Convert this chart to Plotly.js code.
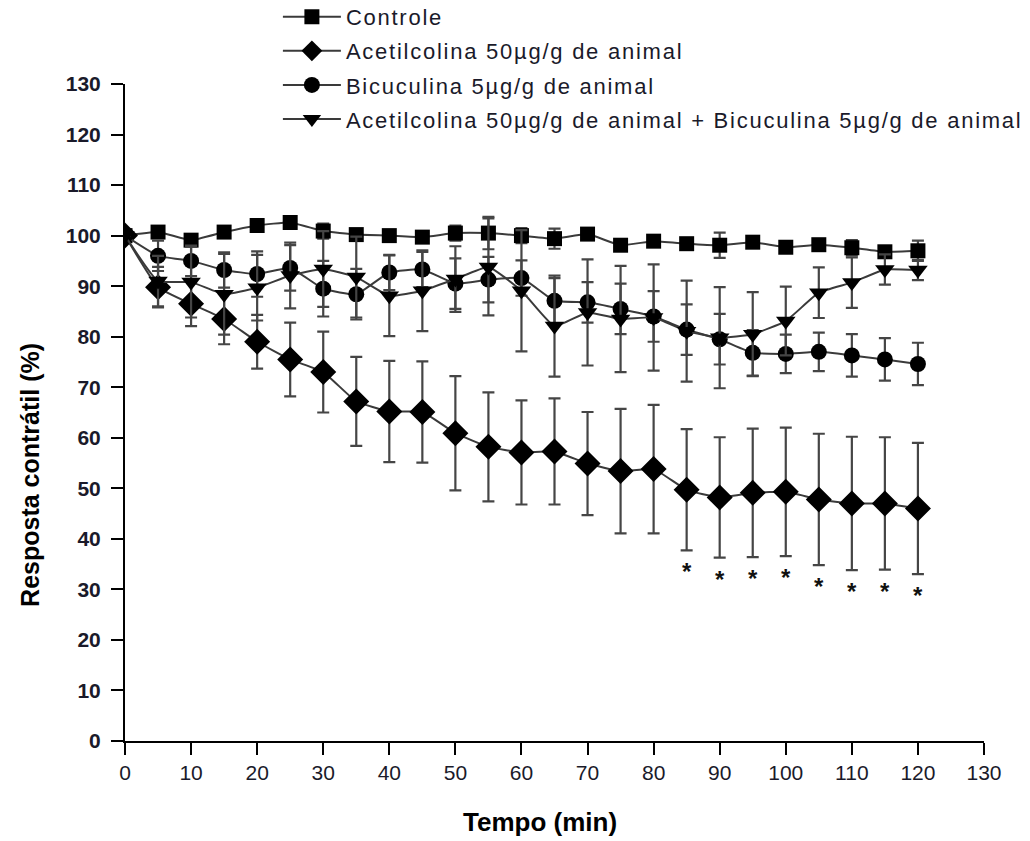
<!DOCTYPE html>
<html>
<head>
<meta charset="utf-8">
<script src="https://cdn.plot.ly/plotly-3.0.1.min.js"></script>
<style>
html,body{margin:0;padding:0;background:#fff;}
#chart{width:1030px;height:841px;}
.legendtext{letter-spacing:1.75px;}
</style>
</head>
<body>
<div id="chart"></div>
<script>
// ---- data ----
const tempo = [0,5,10,15,20,25,30,35,40,45,50,55,60,65,70,75,80,85,90,95,100,105,110,115,120];

const seriesNames = [
  "Controle",
  "Acetilcolina 50µg/g de animal",
  "Bicuculina 5µg/g de animal",
  "Acetilcolina 50µg/g de animal + Bicuculina 5µg/g de animal"
];

const controle = [100,100.7,99.1,100.7,102,102.6,100.9,100.2,100,99.7,100.5,100.5,100,99.4,100.3,98.1,98.9,98.4,98.1,98.7,97.7,98.2,97.6,96.8,97];
const controleErr = [0,1,1,1,1,1,1.5,1,1,1,1.5,3.2,1.5,2,1,1,1,1,2.5,1,1,1,1.5,1,2];

const acetil = [100,89.8,86.5,83.5,79,75.5,73,67.2,65.2,65.1,60.9,58.2,57.1,57.3,54.9,53.4,53.8,49.7,48.2,49.1,49.3,47.8,47,47,46];
const acetilErr = [0,4,4.4,5,5.3,7.3,8,8.8,10,10,11.3,10.8,10.3,10.5,10.2,12.3,12.7,12,11.9,12.7,12.7,13,13.2,13.1,13];

const bicuculina = [100,96,95,93.2,92.4,93.6,89.5,88.4,92.7,93.3,90.5,91.3,91.6,87.1,86.8,85.5,84,81.4,79.5,76.8,76.6,77,76.3,75.5,74.6];
const bicuculinaErr = [0,3,3,3.5,4.5,4.5,5.5,5,3.5,3.5,5,4.5,3.5,4.5,4,5,5,5,5,4.5,3.8,3.8,4.2,4.2,4.2];

const acetilBic = [100,91,90.8,88.4,89.7,92.1,93.4,91.8,88.1,89.1,91.4,93.8,89.1,82.1,84.8,83.5,83.8,81.1,79.8,80.5,83.1,88.7,90.7,93.3,93.2];
const acetilBicErr = [0,5,7,8,6.5,6.5,7.5,8,8,8,6.5,9.6,12,10,10.5,10.5,10.5,10,10,8.3,6.8,5,5,3,2];

// significance (*) for Acetilcolina vs controle
const significativo = [false,false,false,false,false,false,false,false,false,false,false,false,false,false,false,false,false,true,true,true,true,true,true,true,true];

const xTicks = [0,10,20,30,40,50,60,70,80,90,100,110,120,130];
const yTicks = [0,10,20,30,40,50,60,70,80,90,100,110,120,130];

const xTitle = 'Tempo (min)';
const yTitle = 'Resposta contrátil (%)';

// ---- chart ----
const FONT = 'Liberation Sans, Arial, sans-serif';
const lineColor = '#3a3a3a';
const errColor = '#454545';
function trace(name, y, err, symbol, size, group) {
  return {
    x: tempo, y: y, name: name, type: 'scatter', mode: 'lines+markers',
    legendgroup: group,
    line: {color: lineColor, width: 2, shape: 'spline', smoothing: 0.4},
    marker: {symbol: symbol, size: size, color: '#000', line: {width: 0}},
    error_y: {type: 'data', array: err, visible: true, color: errColor, thickness: 2.2, width: 6}
  };
}
const data = [
  trace(seriesNames[0], controle, controleErr, 'square', 15, 'a'),
  trace(seriesNames[1], acetil, acetilErr, 'diamond', 20, 'b'),
  trace(seriesNames[2], bicuculina, bicuculinaErr, 'circle', 16, 'c'),
  trace(seriesNames[3], acetilBic, acetilBicErr, 'triangle-down', 17, 'd')
];

const annotations = [];
tempo.forEach((t, i) => {
  if (significativo[i]) {
    annotations.push({
      x: t, y: acetil[i] - acetilErr[i], xref: 'x', yref: 'y',
      text: '<b>*</b>', showarrow: false, yanchor: 'top', yshift: -6,
      font: {family: FONT, size: 24, color: '#111'}
    });
  }
});
// axis titles (placed as in the original figure)
annotations.push({
  text: '<b>' + yTitle + '</b>', xref: 'paper', yref: 'paper', x: -0.1106, y: 0.405,
  xanchor: 'center', yanchor: 'middle', textangle: -90, showarrow: false,
  font: {family: FONT, size: 25, color: '#000'}
});
annotations.push({
  text: '<b>' + xTitle + '</b>', xref: 'paper', yref: 'paper', x: 0.483, y: -0.1233,
  xanchor: 'center', yanchor: 'middle', showarrow: false,
  font: {family: FONT, size: 26, color: '#000'}
});

const layout = {
  width: 1030, height: 841,
  margin: {l: 125, r: 46, t: 84, b: 100, autoexpand: false},
  paper_bgcolor: '#fff', plot_bgcolor: '#fff',
  showlegend: true,
  legend: {
    x: 0.178, xanchor: 'left', y: 1.134, yanchor: 'top',
    font: {family: FONT, size: 22, color: '#1a1a2a'},
    itemwidth: 58, tracegroupgap: 2.5, traceorder: 'grouped',
    bgcolor: 'rgba(0,0,0,0)'
  },
  xaxis: {
    range: [0, 130], tickvals: xTicks, ticktext: xTicks.map(String),
    showgrid: false, zeroline: false, showline: true, linecolor: '#000', linewidth: 2,
    ticks: 'outside', ticklen: 12, tickwidth: 2, tickcolor: '#000',
    tickfont: {family: FONT, size: 21, color: '#1a1a2a'}
  },
  yaxis: {
    range: [0, 130], tickvals: yTicks, ticktext: yTicks.map(String),
    showgrid: false, zeroline: false, showline: true, linecolor: '#000', linewidth: 2,
    ticks: 'outside', ticklen: 12, tickwidth: 2, tickcolor: '#000',
    ticklabelstandoff: 6,
    tickfont: {family: FONT, size: 21, color: '#1a1a2a', weight: 'bold'}
  },
  annotations: annotations
};

Plotly.newPlot('chart', data, layout, {displayModeBar: false, staticPlot: true});
</script>
</body>
</html>
